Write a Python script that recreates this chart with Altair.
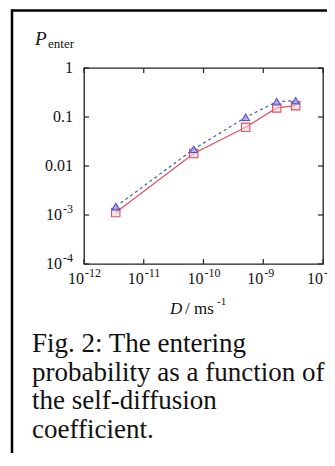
import altair as alt
import pandas as pd

# ---- data ----
D_values = [3.4e-12, 6.86e-11, 5.08e-10, 1.68e-9, 3.49e-9]
P_triangle = [1.48e-3, 0.022, 0.0986, 0.205, 0.215]
P_square = [1.12e-3, 0.018, 0.0616, 0.153, 0.170]

x_tick_values = [1e-12, 1e-11, 1e-10, 1e-9, 1e-8]
x_tick_exponents = ["-12", "-11", "-10", "-9", "-8"]
y_tick_values = [1, 0.1, 0.01, 1e-3, 1e-4]
y_plain_values = [1, 0.1, 0.01]
y_plain_labels = ["1", "0.1", "0.01"]
y_exp_values = [1e-3, 1e-4]
y_exp_labels = ["-3", "-4"]

caption_lines = [
    "Fig. 2: The entering",
    "probability as a function of",
    "the self-diffusion",
    "coefficient.",
]

W, H = 239, 196
FONT = "Liberation Serif"

df = pd.DataFrame({"D": D_values, "tri": P_triangle, "sq": P_square})
xt = pd.DataFrame({"v": x_tick_values, "e": x_tick_exponents})
yt = pd.DataFrame({"v": y_tick_values})
yp = pd.DataFrame({"v": y_plain_values, "t": y_plain_labels})
ye = pd.DataFrame({"v": y_exp_values, "e": y_exp_labels})
one = pd.DataFrame({"k": [0]})

xs = alt.Scale(type="log", domain=[1e-12, 1e-8], nice=False)
ys = alt.Scale(type="log", domain=[1e-4, 1], nice=False)

base = alt.Chart(df)

line_sq = base.mark_line(color="#e0505e", strokeWidth=1.2).encode(
    x=alt.X("D:Q", scale=xs, axis=None), y=alt.Y("sq:Q", scale=ys, axis=None))
line_tri = base.mark_line(color="#3f5fa8", strokeWidth=1.2, strokeDash=[3, 3]).encode(
    x=alt.X("D:Q", scale=xs, axis=None), y=alt.Y("tri:Q", scale=ys, axis=None))
pts_sq = base.mark_point(shape="square", size=70, filled=True, fill="#f6d6da",
                         fillOpacity=0.6, stroke="#e0505e", strokeWidth=1.1, opacity=1).encode(
    x=alt.X("D:Q", scale=xs, axis=None), y=alt.Y("sq:Q", scale=ys, axis=None))
pts_tri = base.mark_point(shape="triangle-up", size=55, filled=True, fill="#b0a8ee",
                          fillOpacity=0.8, stroke="#4a52c8", strokeWidth=1.1, opacity=1).encode(
    x=alt.X("D:Q", scale=xs, axis=None), y=alt.Y("tri:Q", scale=ys, axis=None))

tick_style = dict(color="#222", strokeWidth=1.2)
xticks_b = alt.Chart(xt).mark_rule(**tick_style).encode(
    x=alt.X("v:Q", scale=xs, axis=None), y=alt.value(H), y2=alt.value(H - 5))
xticks_t = alt.Chart(xt).mark_rule(**tick_style).encode(
    x=alt.X("v:Q", scale=xs, axis=None), y=alt.value(0), y2=alt.value(5))
yticks_l = alt.Chart(yt).mark_rule(**tick_style).encode(
    y=alt.Y("v:Q", scale=ys, axis=None), x=alt.value(0), x2=alt.value(5))
yticks_r = alt.Chart(yt).mark_rule(**tick_style).encode(
    y=alt.Y("v:Q", scale=ys, axis=None), x=alt.value(W), x2=alt.value(W - 5))

# x tick labels: "10" + superscript exponent
xlab_base = alt.Chart(xt).mark_text(font=FONT, fontSize=16, align="right", baseline="alphabetic",
                                    color="#111", text="10").encode(
    x=alt.X("v:Q", scale=xs, axis=None), y=alt.value(H + 20))
xlab_exp = alt.Chart(xt).mark_text(font=FONT, fontSize=12, align="left", baseline="alphabetic",
                                   color="#111", dx=1).encode(
    x=alt.X("v:Q", scale=xs, axis=None), y=alt.value(H + 13), text="e:N")

# y tick labels
ylab_plain = alt.Chart(yp).mark_text(font=FONT, fontSize=16, align="right", baseline="middle",
                                     color="#111").encode(
    y=alt.Y("v:Q", scale=ys, axis=None), x=alt.value(-11), text="t:N")
ylab_base = alt.Chart(ye).mark_text(font=FONT, fontSize=16, align="right", baseline="middle",
                                    color="#111", text="10").encode(
    y=alt.Y("v:Q", scale=ys, axis=None), x=alt.value(-22))
ylab_exp = alt.Chart(ye).mark_text(font=FONT, fontSize=12, align="right", baseline="middle",
                                   color="#111", dy=-6).encode(
    y=alt.Y("v:Q", scale=ys, axis=None), x=alt.value(-11), text="e:N")

single = alt.Chart(one)
ytitle_P = single.mark_text(font=FONT, fontSize=19, fontStyle="italic", align="left",
                            baseline="alphabetic", color="#111").encode(
    x=alt.value(-49), y=alt.value(-23), text=alt.value("P"))
ytitle_sub = single.mark_text(font=FONT, fontSize=13, align="left",
                              baseline="alphabetic", color="#111").encode(
    x=alt.value(-36), y=alt.value(-20), text=alt.value("enter"))

xtitle_D = single.mark_text(font=FONT, fontSize=17, fontStyle="italic", align="left",
                            baseline="alphabetic", color="#111").encode(
    x=alt.value(86), y=alt.value(246), text=alt.value("D"))
xtitle_rest = single.mark_text(font=FONT, fontSize=17, align="left",
                               baseline="alphabetic", color="#111").encode(
    x=alt.value(101), y=alt.value(246), text=alt.value("/ ms"))
xtitle_sup = single.mark_text(font=FONT, fontSize=11, align="left",
                              baseline="alphabetic", color="#111").encode(
    x=alt.value(133), y=alt.value(237), text=alt.value("-1"))

caption = single.mark_text(font=FONT, fontSize=27, align="left", baseline="alphabetic",
                           color="#111", lineHeight=28.5).encode(
    x=alt.value(-52), y=alt.value(284), text=alt.value(caption_lines))

border_top = single.mark_rule(color="#000", strokeWidth=2.3).encode(
    x=alt.value(-73), x2=alt.value(243), y=alt.value(-57.5))
border_left = single.mark_rule(color="#000", strokeWidth=2.5).encode(
    x=alt.value(-72), y=alt.value(-58.5), y2=alt.value(390))

chart = alt.layer(
    border_top, border_left,
    line_tri, line_sq, pts_sq, pts_tri,
    xticks_b, xticks_t, yticks_l, yticks_r,
    xlab_base, xlab_exp, ylab_plain, ylab_base, ylab_exp,
    ytitle_P, ytitle_sub, xtitle_D, xtitle_rest, xtitle_sup, caption,
).properties(
    width=W, height=H,
    autosize=alt.AutoSizeParams(type="none"),
    padding={"left": 76, "top": 60, "right": 4, "bottom": 189},
).configure_view(stroke="#222", strokeWidth=1.3)

chart.save("out.html", embed_options={"renderer": "svg", "actions": False})
